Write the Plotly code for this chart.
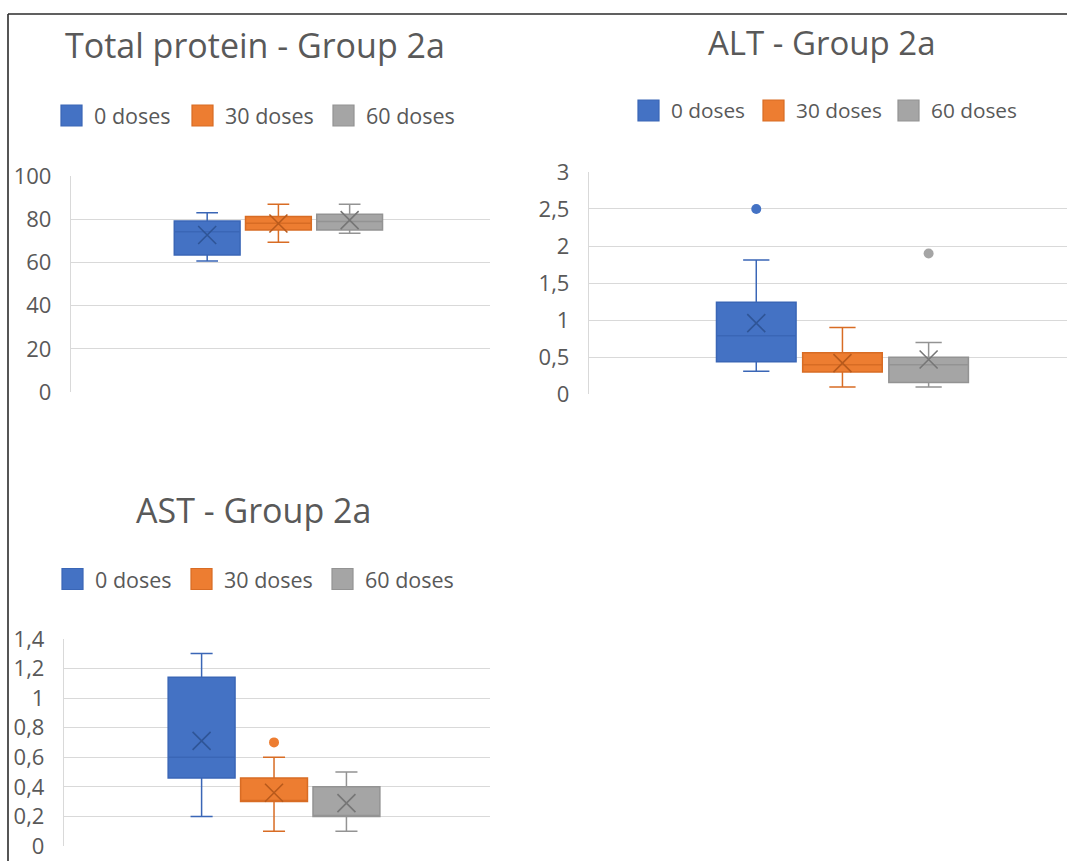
import plotly.graph_objects as go

# ---- data -------------------------------------------------------------
DOSES = ["0 doses", "30 doses", "60 doses"]

# Total protein - Group 2a
TP_LOWER = [60.6, 69.3, 73.5]
TP_Q1 = [63.4, 75.0, 75.0]
TP_MEDIAN = [74.2, 78.1, 78.9]
TP_Q3 = [79.2, 81.2, 82.3]
TP_UPPER = [83.0, 86.9, 86.9]
TP_MEAN = [72.7, 78.0, 79.6]
TP_OUTLIERS = [[], [], []]
TP_TICKS = [0, 20, 40, 60, 80, 100]

# ALT - Group 2a
ALT_LOWER = [0.31, 0.10, 0.10]
ALT_Q1 = [0.44, 0.30, 0.16]
ALT_MEDIAN = [0.79, 0.40, 0.40]
ALT_Q3 = [1.24, 0.56, 0.50]
ALT_UPPER = [1.81, 0.90, 0.70]
ALT_MEAN = [0.96, 0.42, 0.47]
ALT_OUTLIERS = [[2.5], [], [1.9]]
ALT_TICKS = [0, 0.5, 1, 1.5, 2, 2.5, 3]

# AST - Group 2a
AST_LOWER = [0.20, 0.10, 0.10]
AST_Q1 = [0.46, 0.30, 0.20]
AST_MEDIAN = [0.60, 0.30, 0.20]
AST_Q3 = [1.14, 0.46, 0.40]
AST_UPPER = [1.30, 0.60, 0.50]
AST_MEAN = [0.71, 0.36, 0.29]
AST_OUTLIERS = [[], [0.70], []]
AST_TICKS = [0, 0.2, 0.4, 0.6, 0.8, 1, 1.2, 1.4]

# ---- styling ----------------------------------------------------------
W, H = 1067, 861
FONT = "Open Sans"
TEXT = "#595959"
GRID = "#d9d9d9"
FILLS = ["#4472C4", "#ED7D31", "#A5A5A5"]
EDGES = ["#3A66B6", "#D86C24", "#939393"]
MEAN_COL = ["#2F5597", "#B85A1C", "#767676"]
OFFSETS = [-0.17, 0.0, 0.17]
BOX_W = 0.157


def px_x(px):
    return px / W


def px_y(py):
    return 1 - py / H


panels = [
    dict(title="Total protein - Group 2a", lower=TP_LOWER, q1=TP_Q1, med=TP_MEDIAN,
         q3=TP_Q3, upper=TP_UPPER, mean=TP_MEAN, out=TP_OUTLIERS, ticks=TP_TICKS,
         xdom=(71, 490), ybot=392, ytop=176, xr=[-0.495, 0.505],
         title_xy=(255, 45), title_size=34,
         leg_sq=[61, 192, 333], leg_y=115.5, leg_size=21.5),
    dict(title="ALT - Group 2a", lower=ALT_LOWER, q1=ALT_Q1, med=ALT_MEDIAN,
         q3=ALT_Q3, upper=ALT_UPPER, mean=ALT_MEAN, out=ALT_OUTLIERS, ticks=ALT_TICKS,
         xdom=(589, 1067), ybot=394.3, ytop=171.9, xr=[-0.5, 0.443],
         title_xy=(822, 42.5), title_size=33,
         leg_sq=[638, 763, 898], leg_y=110.5, leg_size=20.8),
    dict(title="AST - Group 2a", lower=AST_LOWER, q1=AST_Q1, med=AST_MEDIAN,
         q3=AST_Q3, upper=AST_UPPER, mean=AST_MEAN, out=AST_OUTLIERS, ticks=AST_TICKS,
         xdom=(64, 490), ybot=846, ytop=638.8, xr=[-0.493, 0.507],
         title_xy=(253, 510), title_size=34,
         leg_sq=[62, 191, 332], leg_y=579, leg_size=21.5),
]

fig = go.Figure()
annotations = []
shapes = []
layout_axes = {}

for i, p in enumerate(panels):
    n = "" if i == 0 else str(i + 1)
    xa, ya = "x" + n, "y" + n
    for k, name in enumerate(DOSES):
        pos = OFFSETS[k]
        fig.add_trace(go.Box(
            x=[pos], q1=[p["q1"][k]], median=[p["med"][k]], q3=[p["q3"][k]],
            lowerfence=[p["lower"][k]], upperfence=[p["upper"][k]],
            width=BOX_W, whiskerwidth=0.33, name=name,
            fillcolor=FILLS[k], line=dict(color=EDGES[k], width=1.5),
            showlegend=False, xaxis=xa, yaxis=ya,
        ))
        # mean marker
        fig.add_trace(go.Scatter(
            x=[pos], y=[p["mean"][k]], mode="markers", showlegend=False,
            marker=dict(symbol="x-thin", size=18,
                        line=dict(color=MEAN_COL[k], width=1.6)),
            xaxis=xa, yaxis=ya, hoverinfo="y",
        ))
        # outlying points
        if p["out"][k]:
            fig.add_trace(go.Scatter(
                x=[pos] * len(p["out"][k]), y=p["out"][k], mode="markers",
                showlegend=False, marker=dict(symbol="circle", size=10, color=FILLS[k]),
                xaxis=xa, yaxis=ya, hoverinfo="y",
            ))

    yr = [p["ticks"][0], p["ticks"][-1]]
    layout_axes["xaxis" + n] = dict(
        domain=[px_x(p["xdom"][0]), px_x(p["xdom"][1])], range=p["xr"],
        showgrid=False, zeroline=False, showticklabels=False, showline=False,
        anchor=ya, fixedrange=True, automargin=False,
    )
    layout_axes["yaxis" + n] = dict(
        domain=[px_y(p["ybot"]), px_y(p["ytop"])], range=yr,
        tickvals=p["ticks"], showgrid=True, gridcolor=GRID, gridwidth=1.3,
        zeroline=False, showline=True, linecolor=GRID, linewidth=1.3,
        ticks="", ticklabelstandoff=14,
        tickfont=dict(family=FONT, size=22, color=TEXT),
        anchor=xa, fixedrange=True, automargin=False,
    )

    # title
    annotations.append(dict(
        text=p["title"], xref="paper", yref="paper",
        x=px_x(p["title_xy"][0]), y=px_y(p["title_xy"][1]),
        xanchor="center", yanchor="middle", showarrow=False,
        font=dict(family=FONT, size=p["title_size"], color=TEXT),
    ))

    # legend row
    sq = 21
    for k, name in enumerate(DOSES):
        x0 = p["leg_sq"][k]
        cy = p["leg_y"]
        shapes.append(dict(
            type="rect", xref="paper", yref="paper",
            x0=px_x(x0), x1=px_x(x0 + sq), y0=px_y(cy + sq / 2), y1=px_y(cy - sq / 2),
            fillcolor=FILLS[k], line=dict(color=EDGES[k], width=1.2),
        ))
        annotations.append(dict(
            text=name, xref="paper", yref="paper",
            x=px_x(x0 + sq + 10), y=px_y(cy), xanchor="left", yanchor="middle",
            showarrow=False, font=dict(family=FONT, size=p["leg_size"], color=TEXT),
        ))

# frame lines along the top and left edges
shapes.append(dict(type="line", xref="paper", yref="paper",
                   x0=px_x(8), x1=1, y0=px_y(14), y1=px_y(14),
                   line=dict(color="#2b2b2b", width=1.6)))
shapes.append(dict(type="line", xref="paper", yref="paper",
                   x0=px_x(8), x1=px_x(8), y0=px_y(14), y1=0,
                   line=dict(color="#2b2b2b", width=1.6)))

fig.update_layout(
    template="none",
    width=W, height=H, autosize=False,
    margin=dict(l=0, r=0, t=0, b=0, pad=0),
    paper_bgcolor="white", plot_bgcolor="white",
    separators=",.",
    boxmode="overlay",
    showlegend=False,
    annotations=annotations, shapes=shapes,
    **layout_axes,
)

fig.write_html("out.html")
